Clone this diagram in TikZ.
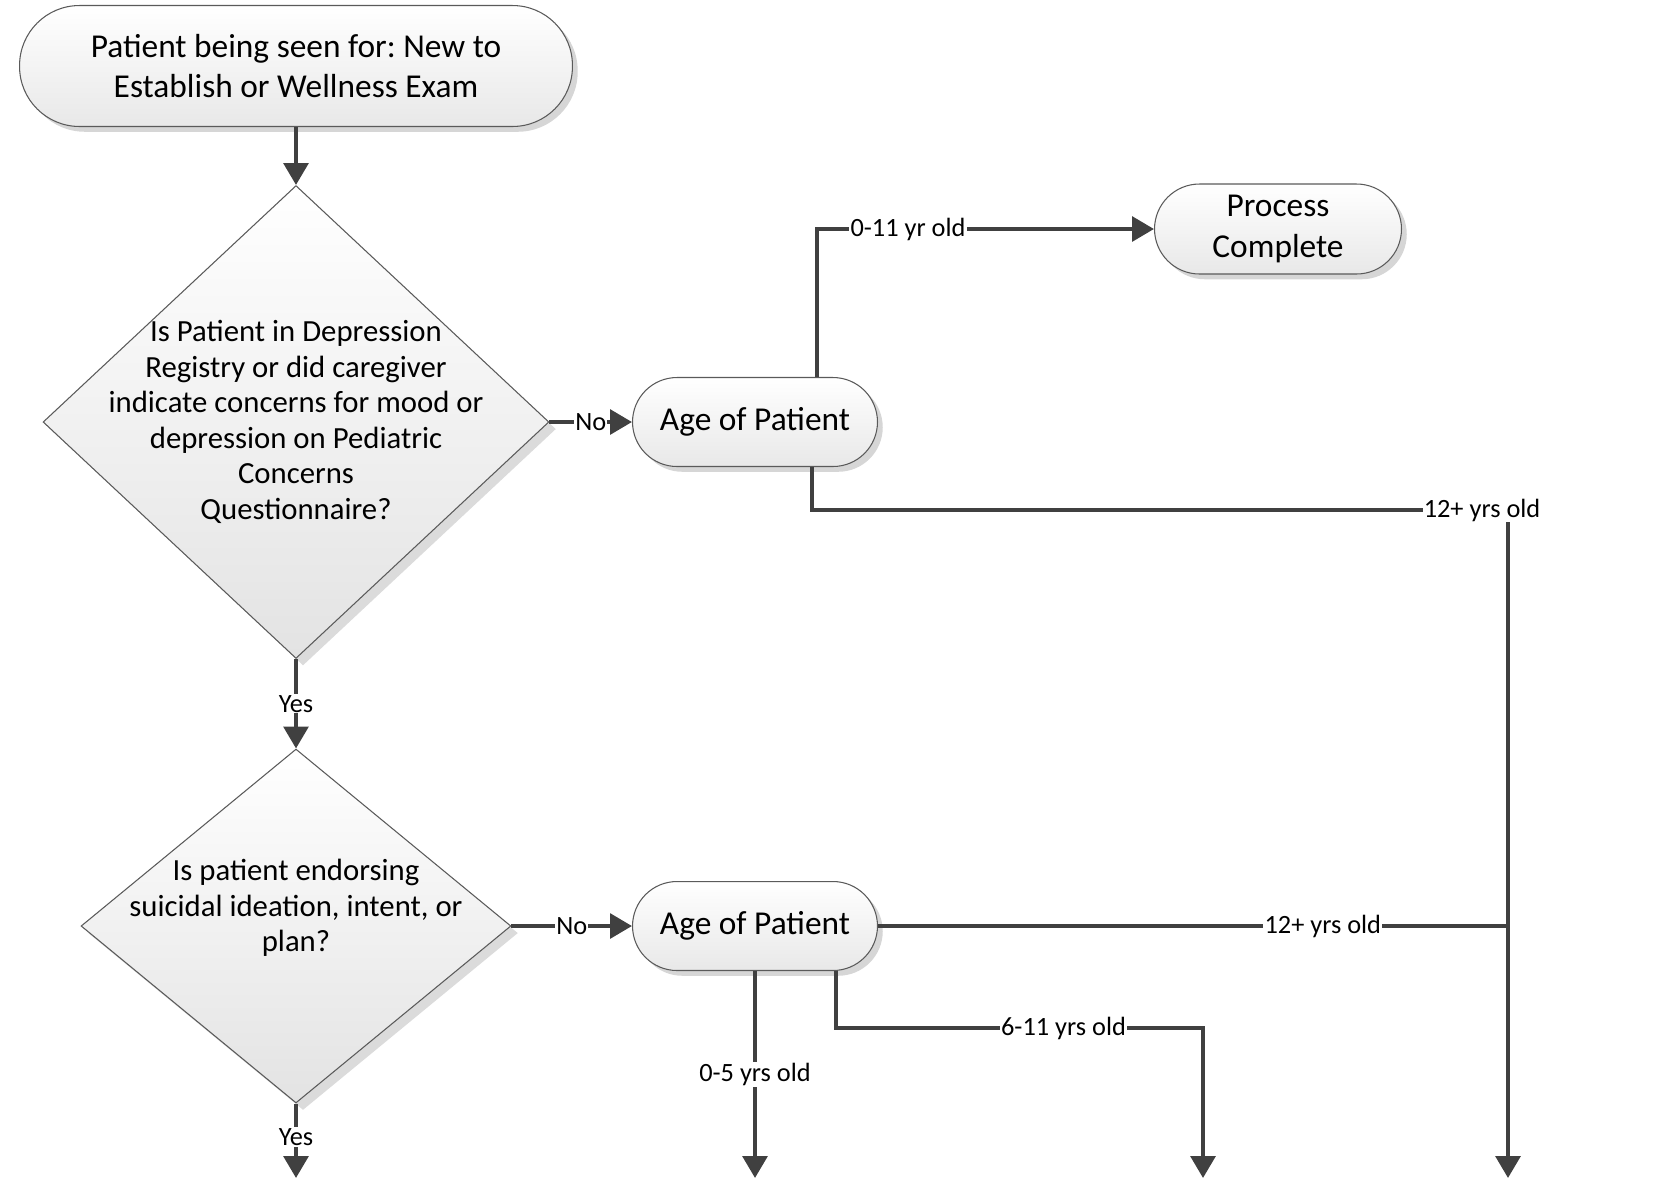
\documentclass[tikz,border=0pt]{standalone}
\usepackage{fontspec}
\setmainfont{Carlito}
\usetikzlibrary{shapes.geometric,arrows.meta,shadows}
\frenchspacing

\definecolor{linegray}{HTML}{404040}
\definecolor{edgegray}{HTML}{5A5A5A}

\tikzset{
  term/.style={draw=edgegray, line width=0.6pt, top color=white, bottom color=black!9,
    drop shadow={shadow xshift=3pt, shadow yshift=-3pt, fill=black!16, opacity=1},
    align=center, inner sep=0pt, font=\fontsize{19}{23}\selectfont},
  decision/.style={diamond, draw=edgegray, line width=0.6pt, inner sep=0pt,
    top color=white, bottom color=black!11,
    drop shadow={shadow xshift=4pt, shadow yshift=-4pt, fill=black!14, opacity=1}},
  qtext/.style={align=center, inner sep=0pt, font=\fontsize{17.5}{20.2}\selectfont},
  conn/.style={draw=linegray, line width=2.4pt},
  flow/.style={conn, -{Triangle[length=12.5pt,width=14pt]}},
  lbl/.style={fill=white, inner sep=0.6pt, font=\fontsize{15}{18}\selectfont}
}

\begin{document}
\begin{tikzpicture}[x=0.02cm, y=-0.02cm]
\useasboundingbox (0,0) rectangle (1659,1178);

% boxes
\node[term, rounded corners=1.2cm, minimum width=11.06cm, minimum height=2.42cm] (start) at (296,66)
  {Patient being seen for: New to\\Establish or Wellness Exam};
\node[decision, minimum width=10.12cm, minimum height=9.46cm] (dep) at (296,422) {};
\node[qtext] (deptext) at (296,422) {Is Patient in Depression\\Registry or did caregiver\\indicate concerns for mood or\\depression on Pediatric\\Concerns\\Questionnaire?};
\node[term, rounded corners=0.89cm, minimum width=4.9cm, minimum height=1.78cm] (agea) at (755,422) {Age of Patient};
\node[term, rounded corners=0.9cm, minimum width=4.94cm, minimum height=1.8cm] (done) at (1278,229) {Process\\Complete};
\node[decision, minimum width=8.6cm, minimum height=7.08cm] (sui) at (296,926) {};
\node[qtext] (suitext) at (296,908) {Is patient endorsing\\suicidal ideation, intent, or\\plan?};
\node[term, rounded corners=0.89cm, minimum width=4.9cm, minimum height=1.78cm] (ageb) at (755,926) {Age of Patient};

% bends and loose ends
\coordinate (kneea) at (1508,510);
\coordinate (joinb) at (1508,926);
\coordinate (kneeb) at (1203,1028);
\coordinate (enda) at (1508,1178);
\coordinate (endb) at (755,1178);
\coordinate (endc) at (1203,1178);
\coordinate (endd) at (296,1178);

% connectors
\draw[flow] (start) -- (dep);
\draw[flow] (dep) -- node[lbl] {No} (agea);
\draw[flow] ([xshift=1.24cm]agea.north) |- node[lbl, pos=0.635] {0-11 yr old} (done);
\draw[flow] ([xshift=1.14cm]agea.south) |- (kneea) node[lbl, xshift=-0.52cm] {12+ yrs old} -- (enda);
\draw[flow] (dep) -- node[lbl] {Yes} (sui);
\draw[flow] (sui) -- node[lbl] {No} (ageb);
\draw[conn] (ageb) -- node[lbl, pos=0.706] {12+ yrs old} (joinb);
\draw[flow] (ageb) -- node[lbl] {0-5 yrs old} (endb);
\draw[flow] ([xshift=1.62cm]ageb.south) |- node[lbl, pos=0.81] {6-11 yrs old} (kneeb) -- (endc);
\draw[flow] (sui) -- node[lbl, pos=0.45] {Yes} (endd);
\end{tikzpicture}
\end{document}
